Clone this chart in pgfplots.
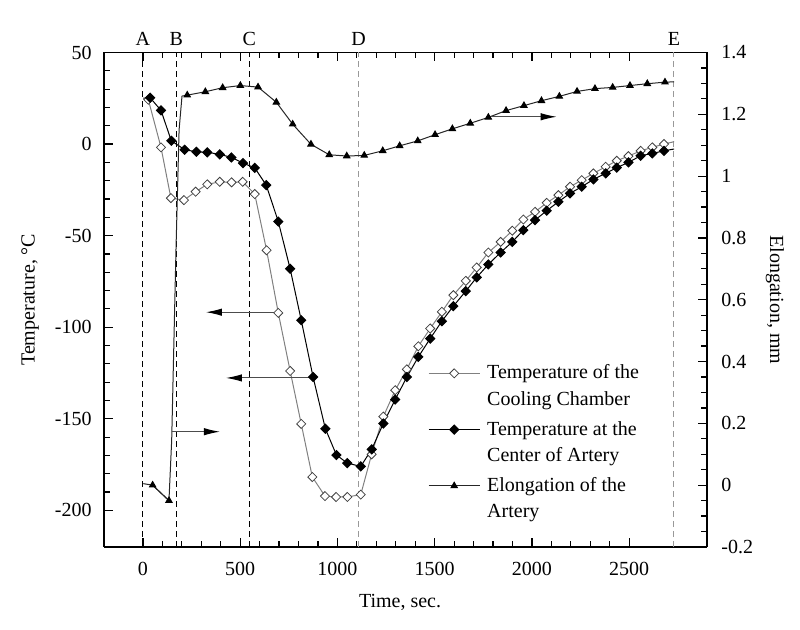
\documentclass[border=0pt]{standalone}
\usepackage{fontspec}
\setmainfont{Liberation Serif}
\usepackage{pgfplots}
\pgfplotsset{compat=1.18}
\usetikzlibrary{arrows.meta}
\renewcommand{\arraystretch}{1.1}
\tikzset{
  chamber/.style={black!50, line width=0.5pt, mark=square*, mark size=1.6pt,
    mark options={rotate=45, draw=black!75, fill=white, solid, line width=0.4pt}},
  centerT/.style={black, line width=0.5pt, mark=square*, mark size=1.6pt,
    mark options={rotate=45, draw=black, fill=black, solid}},
  elong/.style={black!85, line width=0.5pt, mark=triangle*, mark size=1.8pt,
    mark options={draw=black, fill=black, solid}},
  vline/.style={line width=0.5pt, dash pattern=on 3pt off 2pt},
  annarrow/.style={black!70, line width=0.5pt, -{Latex[length=8pt,width=3.7pt,color=black]}},
  letter/.style={anchor=base, yshift=3.25pt, inner sep=0pt, font=\fontsize{10}{12}\selectfont},
}
\pgfplotsset{
  common/.style={
    scale only axis, width=301.5pt, height=247.25pt,
    xmin=-200, xmax=2900,
    tick align=inside, major tick length=4.5pt, minor tick length=2.8pt,
    axis line style={line width=0.6pt},
    every tick/.style={line width=0.6pt, black},
    /pgf/number format/assume math mode=true,
    /pgf/number format/1000 sep={},
    tick label style={font=\fontsize{10}{12}\selectfont},
    label style={font=\fontsize{10}{12}\selectfont},
  }
}
\begin{document}
\begin{tikzpicture}
\useasboundingbox (-52pt,-41.5pt) rectangle (348pt,273.5pt);
% ---------------- Temperature axis ----------------
\begin{axis}[common,
  ymin=-220, ymax=50,
  xtick={0,500,1000,1500,2000,2500},
  ytick={-200,-150,-100,-50,0,50},
  minor x tick num=4, minor y tick num=4,
  axis y line*=left,
  xticklabel style={yshift=-4pt},
  yticklabel style={xshift=-2.7pt},
  xlabel={Time, sec.},
  ylabel={Temperature, °C},
  every axis x label/.style={at={(axis description cs:0.491,-0.113)}, anchor=center},
  every axis y label/.style={at={(axis description cs:-0.1227,0.5)}, rotate=90, anchor=center},
  clip=false,
]
% phase lines
\draw[vline, black] (axis cs:0,-220) -- (axis cs:0,50);
\draw[vline, black] (axis cs:172,-220) -- (axis cs:172,50);
\draw[vline, black] (axis cs:547,-220) -- (axis cs:547,50);
\draw[vline, black!40] (axis cs:1109,-220) -- (axis cs:1109,50);
\draw[vline, black!40] (axis cs:2730,-220) -- (axis cs:2730,50);
\node[letter] at (axis cs:0,50) {A};
\node[letter] at (axis cs:172,50) {B};
\node[letter] at (axis cs:547,50) {C};
\node[letter] at (axis cs:1109,50) {D};
\node[letter] at (axis cs:2730,50) {E};
% Temperature of the cooling chamber
\addplot[chamber] coordinates {
(28,24.2) (93,-1.8) (144,-29.5) (211,-30.6) (271,-26) (331,-22) (395,-20.6)
(456,-20.9) (513,-20.6) (575,-27.3) (636,-58) (696,-92.2) (757,-123.9)
(814,-152.8) (871,-181.8) (936,-192.2) (993,-192.7) (1051,-192.7) (1120,-191.4)
(1176,-169.4) (1236,-148.8) (1297,-134.4) (1357,-123) (1416,-110.4) (1477,-100.7)
(1537,-91.6) (1596,-82.5) (1660,-74.7) (1716,-67.4) (1776,-59.2) (1839,-53.4)
(1899,-47.3) (1956,-41.2) (2016,-37.0) (2076,-32.1) (2136,-27.9) (2196,-23.3)
(2256,-19.7) (2316,-16.0) (2379,-12.4) (2436,-9.1) (2496,-6.6) (2559,-3.7)
(2619,-1.8) (2679,0)
};
\addplot[black!50, line width=0.5pt, no marks, forget plot] coordinates {(2679,0) (2731,1.3)};
% Temperature at the center of artery
\addplot[centerT] coordinates {
(37,25.3) (93,18.4) (146,1.8) (215,-3.1) (275,-4.2) (331,-4.5) (395,-5.6)
(455,-7.3) (515,-10.4) (575,-13) (634,-22.4) (696,-42.3) (757,-68.1)
(814,-96.2) (875,-127.2) (938,-155.4) (995,-169.8) (1051,-174.2) (1120,-176)
(1176,-166.7) (1236,-152.6) (1297,-139.5) (1357,-127.2) (1416,-116.2) (1477,-106.2)
(1537,-96.7) (1596,-88.5) (1660,-80.3) (1716,-72.8) (1776,-65.7) (1839,-59.2)
(1899,-53.4) (1956,-47.0) (2016,-41.5) (2076,-36.4) (2136,-31.5) (2196,-26.9)
(2256,-23.3) (2316,-19.3) (2379,-16.0) (2436,-12.9) (2496,-10.0) (2559,-6.4)
(2619,-5.1) (2679,-3.7)
};
\addplot[black, line width=0.5pt, no marks, forget plot] coordinates {(2679,-3.7) (2731,-2.7)};
\addplot[black, line width=0.5pt, no marks, forget plot] coordinates {(2,25) (37,25.3)};
\addplot[black!50, line width=0.5pt, no marks, forget plot] coordinates {(2,24.6) (28,24.2)};
% arrows to left axis
\draw[annarrow] (axis cs:691,-91.8) -- (axis cs:324,-91.8);
\draw[annarrow] (axis cs:873,-127.7) -- (axis cs:427,-127.7);
\end{axis}
% ---------------- Elongation axis ----------------
\begin{axis}[common,
  ymin=-0.2, ymax=1.4,
  ytick={-0.2,0,0.2,0.4,0.6,0.8,1,1.2,1.4},
  minor y tick num=3,
  hide x axis,
  axis y line*=right,
  yticklabel style={xshift=3.7pt},
  ylabel={Elongation, mm},
  every axis y label/.style={at={(axis description cs:1.1128,0.5)}, rotate=-90, anchor=center},
  clip=false,
  legend style={draw=none, fill=none, at={(0.537,0.378)}, anchor=north west,
    inner sep=0pt, row sep=17.4pt, column sep=3.5pt,
    cells={anchor=base west}, nodes={inner sep=0pt},
    font=\fontsize{10}{12}\selectfont},
  legend image code/.code={\draw[mark repeat=2,mark phase=2,#1] plot coordinates {(0pt,2.8pt) (12.75pt,2.8pt) (25.5pt,2.8pt)};},
]
\addlegendimage{chamber}
\addlegendentry{\begin{tabular}[t]{@{}l@{}}Temperature of the\\Cooling Chamber\end{tabular}}
\addlegendimage{centerT}
\addlegendentry{\begin{tabular}[t]{@{}l@{}}Temperature at the\\Center of Artery\end{tabular}}
\addplot[elong] coordinates {
(228,1.262) (321,1.273) (410,1.286) (501,1.293) (592,1.288) (686,1.239)
(770,1.168) (864,1.103) (958,1.069) (1048,1.065) (1138,1.067) (1233,1.082)
(1320,1.098) (1413,1.114) (1502,1.134) (1591,1.153) (1683,1.171) (1776,1.190)
(1867,1.212) (1959,1.228) (2049,1.244) (2141,1.258) (2232,1.274) (2324,1.283)
(2415,1.287) (2504,1.293) (2593,1.299) (2684,1.304)
};
\addlegendentry{\begin{tabular}[t]{@{}l@{}}Elongation of the\\Artery\end{tabular}}
\addplot[elong, forget plot] coordinates {(50,0.0) (134,-0.05)};
\addplot[black!85, line width=0.5pt, no marks, forget plot] coordinates {
(2,0.005) (50,0.0) (134,-0.05) (148,0.146) (170,0.76) (186,1.149) (201,1.259) (228,1.262)};
\addplot[black!85, line width=0.5pt, no marks, forget plot] coordinates {(2684,1.304) (2731,1.305)};
% arrows to right axis
\draw[annarrow] (axis cs:1783,1.192) -- (axis cs:2127,1.192);
\draw[annarrow] (axis cs:148,0.173) -- (axis cs:396,0.173);
\end{axis}
\end{tikzpicture}
\end{document}
